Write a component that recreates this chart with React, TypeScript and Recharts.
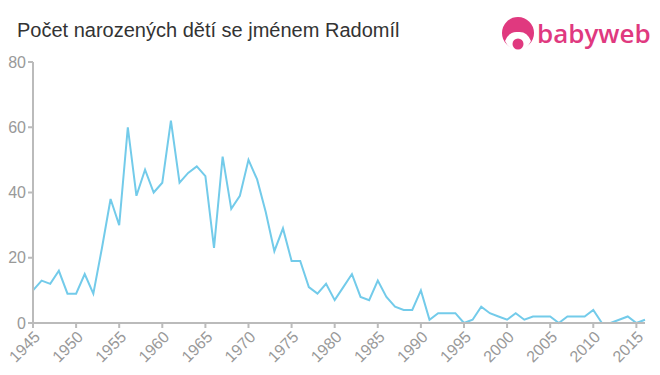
import { LineChart, Line, XAxis, YAxis } from "recharts";

const years = [
  1945, 1946, 1947, 1948, 1949, 1950, 1951, 1952, 1953, 1954, 1955, 1956, 1957, 1958, 1959,
  1960, 1961, 1962, 1963, 1964, 1965, 1966, 1967, 1968, 1969, 1970, 1971, 1972, 1973, 1974,
  1975, 1976, 1977, 1978, 1979, 1980, 1981, 1982, 1983, 1984, 1985, 1986, 1987, 1988, 1989,
  1990, 1991, 1992, 1993, 1994, 1995, 1996, 1997, 1998, 1999, 2000, 2001, 2002, 2003, 2004,
  2005, 2006, 2007, 2008, 2009, 2010, 2011, 2012, 2013, 2014, 2015, 2016,
];

const births = [
  10, 13, 12, 16, 9, 9, 15, 9, 23, 38, 30, 60, 39, 47, 40,
  43, 62, 43, 46, 48, 45, 23, 51, 35, 39, 50, 44, 34, 22, 29,
  19, 19, 11, 9, 12, 7, 11, 15, 8, 7, 13, 8, 5, 4, 4,
  10, 1, 3, 3, 3, 0, 1, 5, 3, 2, 1, 3, 1, 2, 2,
  2, 0, 2, 2, 2, 4, 0, 0, 1, 2, 0, 1,
];

const xTicks = [1945, 1950, 1955, 1960, 1965, 1970, 1975, 1980, 1985, 1990, 1995, 2000, 2005, 2010, 2015];
const yTicks = [0, 20, 40, 60, 80];

const data = years.map((year, i) => ({ year, count: births[i] }));

const axisColor = "#bbbbbb";
const labelColor = "#999999";
const font = "'Liberation Sans', Arial, sans-serif";

function Logo() {
  return (
    <svg width={160} height={40} style={{ position: "absolute", left: 500, top: 16 }}>
      <circle cx={18} cy={17} r={16} fill="#e0397f" />
      <path d="M5 25 Q9 15 18 16 Q27 15 31 25 Q27 34 18 34 Q9 34 5 25 Z" fill="#fff" />
      <circle cx={18} cy={28} r={5.5} fill="#e0397f" />
      <text
        x={37}
        y={27}
        fontFamily="'Open Sans', 'Noto Sans', sans-serif"
        fontSize={26}
        fontWeight={600}
        fill="#e0397f"
      >
        babyweb
      </text>
    </svg>
  );
}

export default function App() {
  return (
    <div style={{ position: "absolute", left: 0, top: 0, width: 660, height: 375, background: "#fff" }}>
      <div
        style={{
          position: "absolute",
          left: 17,
          top: 19,
          fontFamily: font,
          fontSize: 20,
          color: "#333",
        }}
      >
        Počet narozených dětí se jménem Radomíl
      </div>
      <Logo />
      <LineChart width={660} height={375} data={data} margin={{ top: 62, right: 15, bottom: 0, left: 0 }}>
        <XAxis
          dataKey="year"
          type="number"
          domain={[1945, 2016]}
          ticks={xTicks}
          interval={0}
          height={52}
          angle={-45}
          textAnchor="end"
          stroke={axisColor}
          strokeWidth={2}
          tickSize={5}
          tick={{ fill: labelColor, fontSize: 16, fontFamily: font }}
        />
        <YAxis
          domain={[0, 80]}
          ticks={yTicks}
          width={33}
          stroke={axisColor}
          strokeWidth={2}
          tickSize={5}
          tick={{ fill: labelColor, fontSize: 16, fontFamily: font }}
        />
        <Line
          type="linear"
          dataKey="count"
          stroke="#73cbea"
          strokeWidth={2}
          dot={false}
          isAnimationActive={false}
        />
      </LineChart>
    </div>
  );
}
